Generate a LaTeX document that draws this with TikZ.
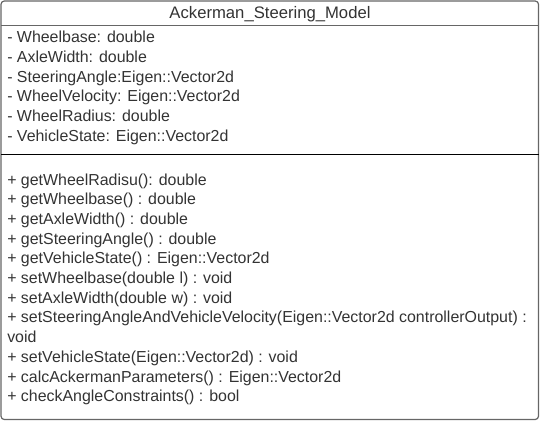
\documentclass[tikz,border=0pt]{standalone}
\usepackage{fontspec}
\setmainfont{Liberation Sans}
\definecolor{textc}{HTML}{333333}
\definecolor{boxc}{HTML}{666666}
\begin{document}
\begin{tikzpicture}[x=0.75pt,y=-0.75pt,
  txt/.style={anchor=base west, inner sep=0pt, text=textc, font=\fontsize{11.95}{14}\selectfont},
  ttl/.style={anchor=base, inner sep=0pt, text=textc, font=\fontsize{12.5}{15}\selectfont}]
\useasboundingbox (0,0) rectangle (541,421);
\draw[boxc, rounded corners=2.5pt, line width=0.9pt] (1,1) rectangle (538.5,419.5);
\coordinate (d1l) at (1,25.5);
\coordinate (d1r) at (538.5,25.5);
\coordinate (d2l) at (1,154.5);
\coordinate (d2r) at (538.5,154.5);
\draw[boxc, line width=0.75pt] (d1l) -- (d1r);
\draw[black, line width=0.75pt] (d2l) -- (d2r);
\node[ttl] (title) at (270,18.5) {Ackerman\_Steering\_Model};
\node[txt] (a1) at (7,42.7) {- Wheelbase: double};
\node[txt] (a2) at (7,62.4) {- AxleWidth: double};
\node[txt] (a3) at (7,82.1) {- SteeringAngle:Eigen::Vector2d};
\node[txt] (a4) at (7,101.8) {- WheelVelocity: Eigen::Vector2d};
\node[txt] (a5) at (7,121.5) {- WheelRadius: double};
\node[txt] (a6) at (7,141.2) {- VehicleState: Eigen::Vector2d};
\node[txt] (m1) at (7,185.0) {+ getWheelRadisu(): double};
\node[txt] (m2) at (7,204.7) {+ getWheelbase() : double};
\node[txt] (m3) at (7,224.4) {+ getAxleWidth() : double};
\node[txt] (m4) at (7,244.1) {+ getSteeringAngle() : double};
\node[txt] (m5) at (7,263.8) {+ getVehicleState() : Eigen::Vector2d};
\node[txt] (m6) at (7,283.5) {+ setWheelbase(double l) : void};
\node[txt] (m7) at (7,303.2) {+ setAxleWidth(double w) : void};
\node[txt] (m8) at (7,322.9) {+ setSteeringAngleAndVehicleVelocity(Eigen::Vector2d controllerOutput) :};
\node[txt] (m9) at (7,342.6) {void};
\node[txt] (m10) at (7,362.3) {+ setVehicleState(Eigen::Vector2d) : void};
\node[txt] (m11) at (7,382.0) {+ calcAckermanParameters() : Eigen::Vector2d};
\node[txt] (m12) at (7,401.7) {+ checkAngleConstraints() : bool};
\end{tikzpicture}
\end{document}
